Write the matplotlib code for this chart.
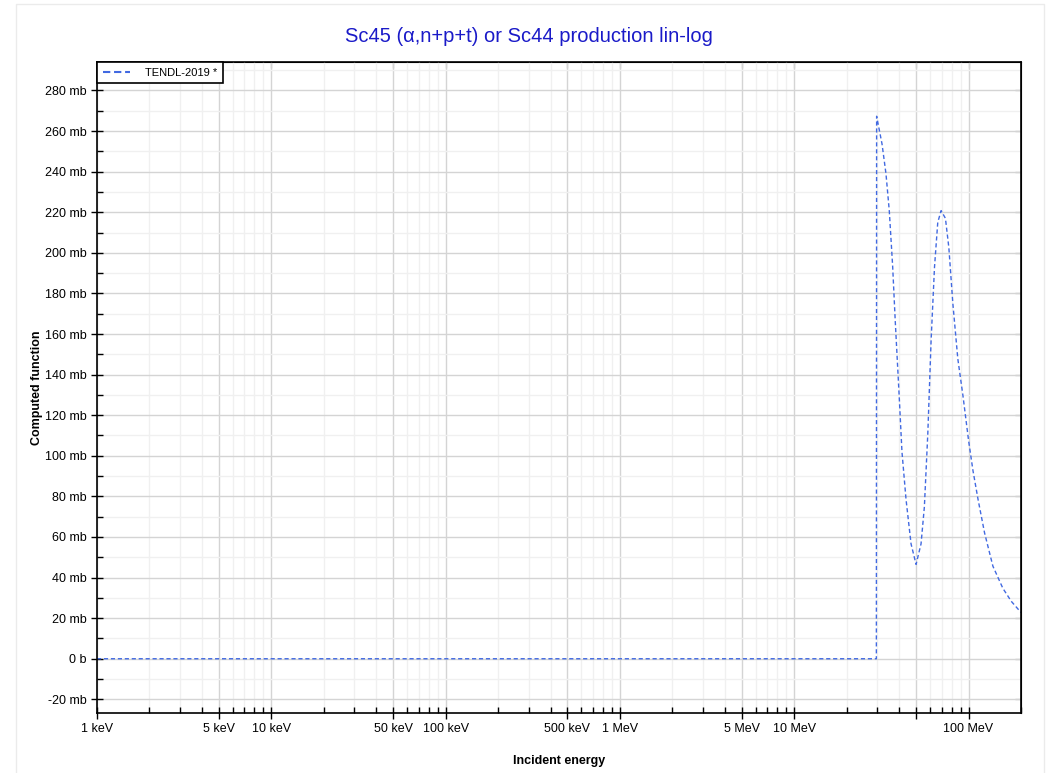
import numpy as np
import matplotlib
matplotlib.use("Agg")
import matplotlib.pyplot as plt
from matplotlib.ticker import FixedLocator, FuncFormatter, MultipleLocator
from matplotlib.patches import Rectangle
from matplotlib.lines import Line2D

plt.rcParams['font.family'] = ['Liberation Sans', 'DejaVu Sans']

# TENDL-2019 cross section, energy in MeV, value in mb
energy_mev = [0.001, 29.6, 29.7, 31.9, 33.6, 35.1, 36.7, 38.0, 40.0, 41.5, 43.8,
              46.8, 50.0, 53.4, 55.8, 58.4, 61.0, 63.8, 66.6, 69.6, 73.7, 77.1,
              81.3, 86.8, 92.9, 100.0, 105.9, 113.4, 123.6, 138.0, 157.4, 175.9, 200.0]
xs_mb = [0, 0, 267.3, 253.6, 239.0, 220.8, 193.4, 166.0, 129.6, 102.0, 78.5,
         56.6, 46.5, 56.6, 74.8, 111.0, 157.0, 193.0, 215.0, 220.8, 217.0, 202.6,
         175.0, 147.8, 129.6, 107.7, 93.0, 78.5, 62.0, 45.6, 34.7, 28.3, 22.8]

x_major = [0.001, 0.005, 0.01, 0.05, 0.1, 0.5, 1, 5, 10, 50, 100]
x_labels = ["1 keV", "5 keV", "10 keV", "50 keV", "100 keV", "500 keV",
            "1 MeV", "5 MeV", "10 MeV", "", "100 MeV"]
x_minor = [m * d for d in [0.001, 0.01, 0.1, 1, 10, 100]
           for m in [2, 3, 4, 6, 7, 8, 9] if m * d <= 200]

title = "Sc45 (\u03b1,n+p+t) or Sc44 production lin-log"
line_color = "#4169e1"

fig = plt.figure(figsize=(10.58, 7.73), dpi=100)
fig.patches.append(Rectangle((16 / 1058, -0.1), (1044 - 16) / 1058, 1.1 - 4 / 773,
                             transform=fig.transFigure, fill=False,
                             edgecolor="#ebebeb", linewidth=1))
ax = fig.add_axes([97 / 1058, 1 - 713 / 773, (1021 - 97) / 1058, (713 - 62) / 773])

ax.plot(energy_mev, xs_mb, color=line_color, linestyle=(0, (3, 2)), linewidth=1)

ax.set_xscale("log")
ax.set_xlim(0.001, 200)
ymax = max(xs_mb)
ax.set_ylim(-0.1 * ymax, 1.1 * ymax)

ax.xaxis.set_major_locator(FixedLocator(x_major))
ax.xaxis.set_minor_locator(FixedLocator(x_minor))
ax.set_xticklabels(x_labels)
ax.xaxis.set_minor_formatter(FuncFormatter(lambda v, p: ""))
ax.yaxis.set_major_locator(MultipleLocator(20))
ax.yaxis.set_minor_locator(MultipleLocator(10))
ax.yaxis.set_major_formatter(FuncFormatter(lambda v, p: "0 b" if abs(v) < 1e-9 else f"{v:g} mb"))

ax.grid(which="major", color="#d4d4d4", linewidth=1)
ax.grid(which="minor", color="#f0f0f0", linewidth=1)
ax.set_axisbelow(True)

ax.tick_params(which="major", direction="inout", length=8, width=1, labelsize=9, color="black")
ax.tick_params(which="minor", direction="in", length=4, width=1)
for s in ax.spines.values():
    s.set_linewidth(1.2)

top = ax.secondary_xaxis("top")
top.xaxis.set_major_locator(FixedLocator(x_major))
top.xaxis.set_minor_locator(FixedLocator(x_minor))
top.tick_params(which="both", direction="in", length=4, labeltop=False)
right = ax.secondary_yaxis("right")
right.yaxis.set_major_locator(MultipleLocator(20))
right.yaxis.set_minor_locator(MultipleLocator(10))
right.tick_params(which="both", direction="in", length=4, labelright=False)

ax.set_xlabel("Incident energy", fontsize=9, fontweight="bold", labelpad=14)
ax.set_ylabel("Computed function", fontsize=9, fontweight="bold", labelpad=1)
fig.text(0.5, 1 - 42 / 773, title, ha="center", va="baseline", fontsize=14.5, color="#1a1ac8")

handle = Line2D([], [], color=line_color, linewidth=1.5, linestyle=(0, (3.5, 1.8)))
leg = ax.legend([handle], ["TENDL-2019 *"], loc="upper left", fontsize=8, frameon=True,
                fancybox=False, borderaxespad=0, handlelength=2.5, handletextpad=1.3,
                borderpad=0.5)
leg.get_frame().set_edgecolor("black")
leg.get_frame().set_linewidth(1.2)
leg.get_frame().set_alpha(1)

fig.savefig("out.png", dpi=100)
